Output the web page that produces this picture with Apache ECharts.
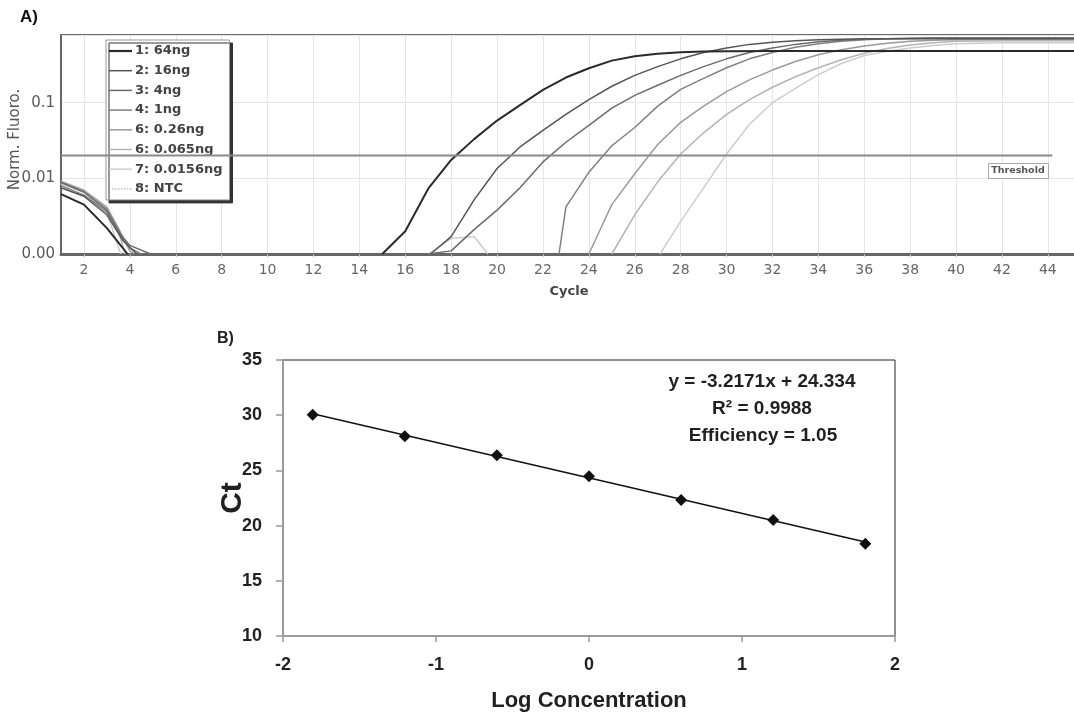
<!DOCTYPE html>
<html>
<head>
<meta charset="utf-8">
<script src="https://cdn.jsdelivr.net/npm/echarts@6/dist/echarts.min.js"></script>
<style>
html,body{margin:0;padding:0;background:#fff;}
#chart{width:1074px;height:716px;}
</style>
</head>
<body>
<div id="chart"></div>
<script>
// ---------- Panel A: amplification curves (cycle, normalised fluorescence) ----------
var cycleTicks = [2,4,6,8,10,12,14,16,18,20,22,24,26,28,30,32,34,36,38,40,42,44];
var seriesNames = ['1: 64ng','2: 16ng','3: 4ng','4: 1ng','6: 0.26ng','6: 0.065ng','7: 0.0156ng','8: NTC'];

var curve64ng = [[1,0.0062],[2,0.0045],[3,0.0022],[3.9,0.001],[4,'-'],
  [15,0.001],[16,0.002],[17,0.0073],[18,0.0175],[19,0.033],[20,0.058],[21,0.093],[22,0.148],[23,0.215],
  [24,0.285],[25,0.36],[26,0.41],[27,0.445],[28,0.465],[29,0.475],[30,0.48],[32,0.482],[34,0.483],
  [36,0.483],[38,0.483],[40,0.483],[42,0.483],[44,0.483],[45.3,0.483]];
var curve16ng = [[1,0.0075],[2,0.0058],[3,0.0033],[3.7,0.0015],[4.3,0.001],[4.5,'-'],
  [17.1,0.001],[18,0.0017],[19,0.0052],[20,0.0135],[21,0.026],[22,0.043],[23,0.07],[24,0.11],[25,0.165],
  [26,0.23],[27,0.3],[28,0.38],[29,0.46],[30,0.53],[31,0.59],[32,0.63],[33,0.66],[34,0.68],[35,0.69],
  [36,0.7],[38,0.7],[40,0.7],[42,0.7],[44,0.7],[45.3,0.7]];
var curve4ng = [[1,0.0088],[2,0.0066],[3,0.0038],[3.6,0.0018],[4,0.0013],[4.9,0.001],[5,'-'],
  [17,0.001],[18,0.0011],[19,0.0021],[20,0.0038],[21,0.0075],[22,0.0165],[23,0.03],[24,0.05],[25,0.085],
  [26,0.125],[27,0.17],[28,0.23],[29,0.3],[30,0.38],[31,0.46],[32,0.53],[33,0.59],[34,0.64],[35,0.67],
  [36,0.69],[37,0.7],[39,0.71],[41,0.71],[43,0.71],[45.3,0.71]];
var curve1ng = [[1,0.008],[2,0.006],[3,0.0036],[3.5,0.002],[4,0.0012],[4.5,0.001],[4.6,'-'],
  [22.7,0.001],[23,0.0042],[24,0.012],[25,0.027],[26,0.047],[27,0.09],[28,0.15],[29,0.21],[30,0.29],
  [31,0.38],[32,0.46],[33,0.54],[34,0.6],[35,0.65],[36,0.68],[37,0.7],[39,0.72],[41,0.72],[43,0.72],[45.3,0.72]];
var curve025ng = [[1,0.009],[2,0.0068],[3,0.004],[3.5,0.0022],[4,0.0011],[4.2,0.001],[4.3,'-'],
  [24,0.001],[25,0.0045],[26,0.0115],[27,0.028],[28,0.055],[29,0.09],[30,0.14],[31,0.2],[32,0.27],
  [33,0.35],[34,0.43],[35,0.5],[36,0.56],[37,0.61],[38,0.65],[39,0.67],[40,0.68],[42,0.69],[45.3,0.69]];
var curve0065ng = [[1,0.0092],[2,0.007],[3,0.0042],[3.4,0.0025],[3.8,0.001],[3.9,'-'],
  [25,0.001],[26,0.0033],[27,0.009],[28,0.021],[29,0.04],[30,0.07],[31,0.11],[32,0.16],[33,0.22],
  [34,0.29],[35,0.37],[36,0.45],[37,0.52],[38,0.58],[39,0.62],[40,0.65],[42,0.66],[45.3,0.66]];
var curve00156ng = [[1,0.0085],[2,0.0065],[3,0.0035],[3.6,0.001],[3.7,'-'],
  [17,0.001],[18,0.0016],[19,0.0017],[19.6,0.001],[19.7,'-'],
  [27.1,0.001],[28,0.0027],[29,0.0075],[30,0.021],[31,0.052],[32,0.1],[33,0.155],[34,0.235],[35,0.33],
  [36,0.42],[37,0.48],[38,0.53],[39,0.57],[40,0.6],[42,0.62],[45.3,0.62]];
var curveNTC = [];

var thresholdValue = 0.02;
var thresholdCycles = [1, 44.2];

// ---------- Panel B: standard curve ----------
var logConc = [-1.806, -1.204, -0.602, 0, 0.602, 1.204, 1.806];
var ctValues = [30.05, 28.1, 26.37, 24.46, 22.32, 20.5, 18.35];
var trendX = [-1.806, 1.806];
var trendY = [30.14, 18.52];
var equationLines = ['y = -3.2171x + 24.334', 'R\u00B2 = 0.9988', 'Efficiency = 1.05'];

var curveData = [curve64ng, curve16ng, curve4ng, curve1ng, curve025ng, curve0065ng, curve00156ng, curveNTC];
var curveColors = ['#2a2a2a','#555555','#6c6c6c','#808080','#9a9a9a','#b4b4b4','#cdcdcd','#999999'];
var curveWidths = [2,1.5,1.5,1.5,1.5,1.5,1.5,1];

var FONT = 'Liberation Sans, Arial, sans-serif';
var DFONT = 'DejaVu Sans, Verdana, sans-serif';

// legend icons: thin line (with empty margins so the bar sits in the middle of a 23x14 box)
function barIcon(th) {
  var y0 = 7 - th / 2, y1 = 7 + th / 2;
  return 'path://M0,0L0,0M0,' + y0 + 'L23,' + y0 + 'L23,' + y1 + 'L0,' + y1 + 'ZM23,14L23,14';
}
function dotIcon() {
  var p = 'path://M0,0L0,0';
  for (var x = 0; x < 23; x += 3) p += 'M' + x + ',6.5L' + (x + 1.5) + ',6.5L' + (x + 1.5) + ',7.5L' + x + ',7.5Z';
  return p + 'M23,14L23,14';
}

var chart = echarts.init(document.getElementById('chart'), null, {renderer:'canvas'});

var series = [];
for (var i = 0; i < curveData.length; i++) {
  series.push({
    name: seriesNames[i], type: 'line', xAxisIndex: 0, yAxisIndex: 0,
    data: curveData[i], symbol: 'none', showSymbol: false, smooth: false, connectNulls: false,
    lineStyle: {color: curveColors[i], width: curveWidths[i], type: i === 7 ? 'dotted' : 'solid'},
    itemStyle: {color: curveColors[i]}, silent: true, animation: false, z: 10 - i
  });
}
series.push({
  name: 'Threshold', type: 'line', xAxisIndex: 0, yAxisIndex: 0, symbol: 'none',
  data: thresholdCycles.map(function(c){ return [c, thresholdValue]; }),
  lineStyle: {color: '#8a8a8a', width: 2}, silent: true, animation: false, z: 20
});
series.push({
  name: 'trend', type: 'line', xAxisIndex: 1, yAxisIndex: 1, symbol: 'none',
  data: trendX.map(function(x, k){ return [x, trendY[k]]; }),
  lineStyle: {color: '#111', width: 1.5}, silent: true, animation: false
});
series.push({
  name: 'Ct', type: 'scatter', xAxisIndex: 1, yAxisIndex: 1, symbol: 'diamond', symbolSize: 12,
  data: logConc.map(function(x, k){ return [x, ctValues[k]]; }),
  itemStyle: {color: '#111', opacity: 1}, silent: true, animation: false, z: 5
});

function logLabel(v) {
  var e = Math.log10(v);
  if (Math.abs(e - Math.round(e)) > 1e-6) return '';
  var r = Math.round(e);
  if (r === -3) return '0.00';
  if (r === -2) return '0.01';
  if (r === -1) return '0.1';
  return '';
}

var legendData = seriesNames.map(function(n, k){
  return {name: n, icon: k === 7 ? dotIcon() : barIcon(k === 0 ? 2.2 : 1.5)};
});

var option = {
  animation: false,
  backgroundColor: '#fff',
  grid: [
    {left: 61, right: -3, top: 35, bottom: 462, show: true, borderColor: '#6a6a6a', borderWidth: 2,
     backgroundColor: '#fff', outerBoundsMode: 'none', containLabel: false},
    {left: 283, right: 179, top: 360, bottom: 80, show: true, borderColor: '#222', borderWidth: 1,
     outerBoundsMode: 'none', containLabel: false}
  ],
  xAxis: [
    {type: 'value', gridIndex: 0, min: 1, max: 45.27,
     name: 'Cycle', nameLocation: 'middle', nameGap: 31, nameMoveOverlap: false,
     nameTextStyle: {fontFamily: DFONT, fontSize: 13, color: '#444', fontWeight: 'bold'},
     axisLine: {show: true, lineStyle: {color: '#666', width: 3}},
     axisTick: {show: true, customValues: cycleTicks, length: 3, lineStyle: {color: '#bbb'}},
     axisLabel: {customValues: cycleTicks, fontFamily: DFONT, fontSize: 14, color: '#666', margin: 9},
     splitLine: {show: true, lineStyle: {color: '#e6e6e6', width: 1}}},
    {type: 'value', gridIndex: 1, min: -2, max: 2, interval: 1,
     name: 'Log Concentration', nameLocation: 'middle', nameGap: 54, nameMoveOverlap: false,
     nameTextStyle: {fontFamily: FONT, fontSize: 22, fontWeight: 'bold', color: '#231f20'},
     axisLine: {show: true, onZero: false, lineStyle: {color: '#9a9a9a', width: 2}},
     axisTick: {show: true, length: 6, lineStyle: {color: '#9a9a9a', width: 1.5}},
     axisLabel: {fontFamily: FONT, fontSize: 18, fontWeight: 'bold', color: '#231f20', margin: 20},
     splitLine: {show: false}}
  ],
  yAxis: [
    {type: 'log', gridIndex: 0, min: 0.001, max: 0.785, logBase: 10,
     name: 'Norm. Fluoro.', nameLocation: 'middle', nameGap: 38, nameRotate: 90, nameMoveOverlap: false,
     nameTextStyle: {fontFamily: DFONT, fontSize: 15, color: '#555', padding: [0, 0, 0, 10]},
     axisLine: {show: true, lineStyle: {color: '#666', width: 2}},
     axisTick: {show: false},
     axisLabel: {formatter: logLabel, fontFamily: DFONT, fontSize: 15, color: '#5a5a5a', margin: 6},
     splitLine: {show: true, lineStyle: {color: '#e6e6e6', width: 1}}},
    {type: 'value', gridIndex: 1, min: 10, max: 35, interval: 5,
     name: 'Ct', nameLocation: 'middle', nameGap: 35, nameRotate: 90, nameMoveOverlap: false,
     nameTextStyle: {fontFamily: FONT, fontSize: 30, fontWeight: 'bold', color: '#231f20'},
     axisLine: {show: true, onZero: false, lineStyle: {color: '#9a9a9a', width: 2}},
     axisTick: {show: true, length: 7, lineStyle: {color: '#9a9a9a', width: 1.5}},
     axisLabel: {fontFamily: FONT, fontSize: 18, fontWeight: 'bold', color: '#231f20', margin: 21},
     splitLine: {show: false}}
  ],
  legend: {
    data: legendData, orient: 'vertical', left: 106, top: 40,
    itemWidth: 23, itemHeight: 14, itemGap: 5.7, padding: [4, 7, 4, 3],
    selectedMode: false, symbolKeepAspect: false,
    itemStyle: {borderWidth: 0},
    backgroundColor: '#fff', borderColor: '#9a9a9a', borderWidth: 1,
    shadowColor: '#333', shadowBlur: 0, shadowOffsetX: 3, shadowOffsetY: 3,
    textStyle: {fontFamily: DFONT, fontSize: 13, fontWeight: 'bold', color: '#444', padding: [0,0,0,-2]}
  },
  graphic: [
    {type: 'text', left: 20, top: 9, style: {text: 'A)', font: 'bold 17px ' + FONT, fill: '#111'}},
    {type: 'text', left: 217, top: 331, style: {text: 'B)', font: 'bold 16px ' + FONT, fill: '#231f20'}},
    {type: 'text', x: 762, y: 382, style: {text: equationLines[0], font: 'bold 19px ' + FONT, fill: '#231f20', align: 'center', verticalAlign: 'middle', textAlign: 'center', textVerticalAlign: 'middle'}},
    {type: 'text', x: 762, y: 409, style: {text: equationLines[1], font: 'bold 19px ' + FONT, fill: '#231f20', align: 'center', verticalAlign: 'middle', textAlign: 'center', textVerticalAlign: 'middle'}},
    {type: 'text', x: 763, y: 436, style: {text: equationLines[2], font: 'bold 19px ' + FONT, fill: '#231f20', align: 'center', verticalAlign: 'middle', textAlign: 'center', textVerticalAlign: 'middle'}},
    {type: 'rect', left: 988, top: 163, shape: {width: 60, height: 15}, style: {fill: '#fff', stroke: '#aaa', lineWidth: 1}, z: 100},
    {type: 'text', x: 1018, y: 171, z: 101, style: {text: 'Threshold', font: 'bold 9.5px ' + DFONT, fill: '#555', align: 'center', verticalAlign: 'middle', textAlign: 'center', textVerticalAlign: 'middle'}}
  ],
  series: series
};
chart.setOption(option);
</script>
</body>
</html>
